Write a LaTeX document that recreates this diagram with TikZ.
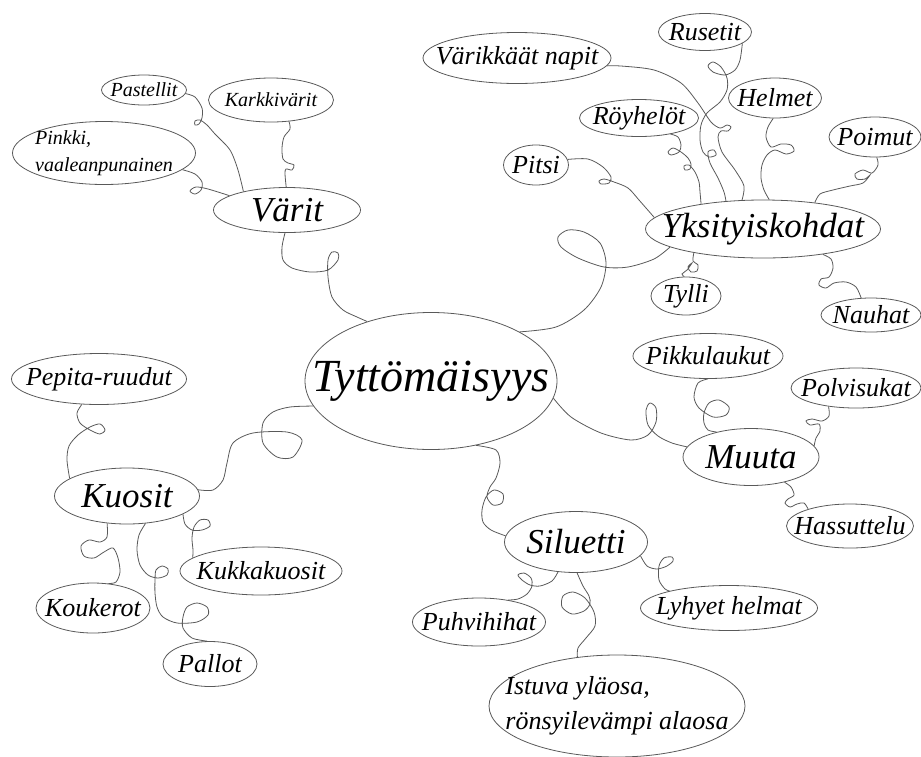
\documentclass[tikz,border=0pt]{standalone}
\usepackage{fontspec}
\setmainfont{Liberation Serif}
\usetikzlibrary{shapes.geometric}

\begin{document}
\begin{tikzpicture}[
        x = 1pt, y = -1pt,
        bubble/.style = {draw = black!65, line width = 0.8pt, ellipse, inner sep = -40pt},
        dims/.style 2 args = {minimum width = #1, minimum height = #2},
        root/.style = {bubble, font = \fontsize{46}{50}\selectfont\itshape},
        topic/.style = {bubble, font = \fontsize{35}{40}\selectfont\itshape},
        leaf/.style = {bubble, font = \fontsize{26}{35}\selectfont\itshape},
        twig/.style = {bubble, font = \fontsize{20}{27}\selectfont\itshape},
        link/.style = {draw = black!65, line width = 0.8pt}
        ]
        \useasboundingbox (0,0) rectangle (921,756);

        \node [root, dims={252}{137}] (main) at (431,381) {Tyttömäisyys};
        \node [topic, dims={147}{45}] (varit) at (287,210) {Värit};
        \node [topic, dims={235}{58}] (yksit) at (763,229) {Yksityiskohdat};
        \node [topic, dims={145}{56}] (kuosit) at (127,496) {Kuosit};
        \node [topic, dims={143}{61}] (silu) at (576,542) {Siluetti};
        \node [topic, dims={136}{57}] (muuta) at (751,457) {Muuta};

        \node [twig, dims={85}{30}] (past) at (144,90) {Pastellit};
        \node [twig, dims={125}{44}] (karkki) at (271,100) {Karkkivärit};
        \node [twig, dims={183}{63}, align=left] (pinkki) at (104,153) {Pinkki,\\vaaleanpunainen};

        \node [leaf, dims={188}{51}] (napit) at (517,58) {Värikkäät napit};
        \node [leaf, dims={93}{37}] (rus) at (705,32) {Rusetit};
        \node [leaf, dims={93}{40}] (helmet) at (775,98) {Helmet};
        \node [leaf, dims={119}{37}] (royh) at (639,118) {Röyhelöt};
        \node [leaf, dims={92}{40}] (poimut) at (875,137) {Poimut};
        \node [leaf, dims={65}{40}] (pitsi) at (536,165) {Pitsi};
        \node [leaf, dims={70}{38}] (tylli) at (686,296) {Tylli};
        \node [leaf, dims={100}{34}] (nauhat) at (871,315) {Nauhat};

        \node [leaf, dims={175}{51}] (pepita) at (99,379) {Pepita-ruudut};
        \node [leaf, dims={162}{48}] (kukka) at (261,571) {Kukkakuosit};
        \node [leaf, dims={114}{50}] (kouk) at (93,608) {Koukerot};
        \node [leaf, dims={94}{45}] (pallot) at (210,664) {Pallot};

        \node [leaf, dims={150}{45}] (pikku) at (708,356) {Pikkulaukut};
        \node [leaf, dims={130}{40}] (polvi) at (856,388) {Polvisukat};
        \node [leaf, dims={127}{44}] (hassu) at (850,526) {Hassuttelu};

        \node [leaf, dims={133}{48}] (puhvi) at (479,622) {Puhvihihat};
        \node [leaf, dims={177}{45}] (lyhyet) at (729,608) {Lyhyet helmat};
        \node [leaf, dims={256}{102}, align=left] (istuva) at (617,706) {Istuva yläosa,\\rönsyilevämpi alaosa};

        % Värit
        \draw [link] plot [smooth] coordinates {(past.-5) (195,97) (202,108) (202,118) (199,124) (195,125) (195,121) (200,120) (207,125) (215,134) (230,150) (238,170) (varit.157)};
        \draw [link] plot [smooth] coordinates {(karkki.-50) (290,129) (284,137) (282,148) (283,159) (288,163) (294,165) (292,170) (286,169) (285,174) (varit.92)};
        \draw [link] plot [smooth] coordinates {(pinkki.-12) (195,174) (202,182) (201,190) (195,194) (190,191) (196,187) (208,189) (varit.166)};
        \draw [link] plot [smooth] coordinates {(varit.-95) (282,247) (283,260) (292,268) (310,272) (328,270) (338,260) (338,253) (332,252) (328,260) (328,277) (332,297) (343,310) (357,317) (main.137)};

        % Yksityiskohdat
        \draw [link] plot [smooth] coordinates {(yksit.191) (654,259) (628,267) (604,267) (578,258) (561,247) (558,237) (568,230) (584,232) (600,243) (606,263) (601,287) (584,310) (556,327) (main.29)};
        \draw [link] plot [smooth] coordinates {(pitsi.10) (588,159) (603,167) (611,177) (609,183) (601,184) (599,181) (604,179) (614,182) (628,188) (639,200) (yksit.174)};
        \draw [link] plot [smooth] coordinates {(royh.-27) (678,137) (681,145) (679,152) (671,155) (668,152) (673,148) (681,152) (688,158) (691,164) (690,169) (685,170) (684,166) (689,165) (695,172) (699,182) (700,192) (yksit.158)};
        \draw [link] plot [smooth] coordinates {(napit.-5) (621,66) (654,70) (681,83) (698,103) (711,122) (720,128) (727,125) (731,127) (728,131) (721,131) (718,137) (722,152) (735,170) (744,186) (yksit.126)};
        \draw [link] plot [smooth] coordinates {(rus.-17) (740,60) (735,70) (725,75) (713,72) (708,66) (713,62) (721,67) (727,78) (727,90) (720,102) (707,113) (701,125) (700,140) (703,152) (709,157) (716,155) (714,150) (708,152) (710,163) (718,178) (724,192) (yksit.143)};
        \draw [link] plot [smooth] coordinates {(helmet.-95) (768,127) (766,137) (771,147) (781,144) (791,145) (794,151) (786,154) (775,150) (767,155) (762,165) (761,178) (764,190) (yksit.78)};
        \draw [link] plot [smooth] coordinates {(poimut.-85) (878,165) (872,173) (863,170) (855,174) (857,179) (865,179) (870,175) (863,183) (850,186) (833,190) (820,194) (yksit.27)};
        \draw [link] plot [smooth] coordinates {(yksit.199) (693,261) (698,265) (697,271) (691,272) (688,267) (692,263) (687,270) (682,274) (tylli.95)};
        \draw [link] plot [smooth] coordinates {(yksit.-23) (831,259) (833,268) (829,277) (821,279) (819,285) (826,288) (834,283) (846,282) (856,287) (nauhat.120)};

        % Muuta
        \draw [link] plot [smooth] coordinates {(main.-8) (571,417) (601,433) (631,440) (648,435) (656,422) (656,408) (650,403) (646,410) (648,425) (658,436) (672,443) (muuta.171)};
        \draw [link] plot [smooth] coordinates {(pikku.-90) (698,383) (694,397) (699,408) (713,417) (726,415) (729,407) (719,400) (709,403) (704,413) (704,423) (708,430) (muuta.144)};
        \draw [link] plot [smooth] coordinates {(polvi.-146) (829,416) (822,421) (812,419) (806,421) (810,425) (819,424) (820,431) (816,438) (muuta.10)};
        \draw [link] plot [smooth] coordinates {(muuta.-37) (791,487) (794,495) (788,499) (785,503) (790,507) (797,504) (804,503) (hassu.158)};

        % Siluetti
        \draw [link] plot [smooth] coordinates {(main.-55) (496,450) (500,463) (496,478) (490,487) (487,497) (493,505) (502,503) (503,494) (494,490) (486,497) (482,510) (483,522) (491,530) (silu.175)};
        \draw [link] plot [smooth] coordinates {(silu.-121) (552,581) (540,586) (530,585) (522,580) (518,575) (524,573) (531,578) (532,586) (527,594) (518,599) (puhvi.37)};
        \draw [link] plot [smooth] coordinates {(silu.-88) (583,586) (589,596) (590,604) (584,611) (572,614) (562,607) (563,596) (573,592) (585,598) (594,612) (595,626) (586,638) (578,648) (istuva.129)};
        \draw [link] plot [smooth] coordinates {(silu.-12) (647,566) (657,569) (667,566) (673,561) (672,557) (664,558) (659,566) (659,580) (665,589) (lyhyet.164)};

        % Kuosit
        \draw [link] plot [smooth] coordinates {(kuosit.5) (213,490) (223,480) (227,463) (233,443) (253,433) (287,432) (302,440) (293,457) (277,457) (263,443) (263,423) (273,412) (290,407) (main.192)};
        \draw [link] plot [smooth] coordinates {(pepita.-124) (77,413) (80,423) (90,430) (100,434) (105,430) (100,424) (90,427) (78,435) (69,446) (67,460) (kuosit.163)};
        \draw [link] plot [smooth] coordinates {(kuosit.-126) (107,537) (100,542) (89,540) (81,546) (84,556) (94,558) (104,552) (113,548) (118,558) (120,572) (116,582) (kouk.58)};
        \draw [link] plot [smooth] coordinates {(kuosit.-56) (139,535) (137,550) (140,565) (148,575) (158,578) (167,575) (168,569) (162,566) (156,570) (155,580) (155,593) (157,607) (163,617) (177,623) (197,622) (208,615) (207,607) (197,603) (187,607) (183,617) (183,628) (192,638) (pallot.97)};
        \draw [link] plot [smooth] coordinates {(kuosit.-18) (185,524) (192,530) (202,530) (210,526) (208,520) (200,520) (194,527) (192,538) (193,550) (kukka.169)};
    \end{tikzpicture}
\end{document}
